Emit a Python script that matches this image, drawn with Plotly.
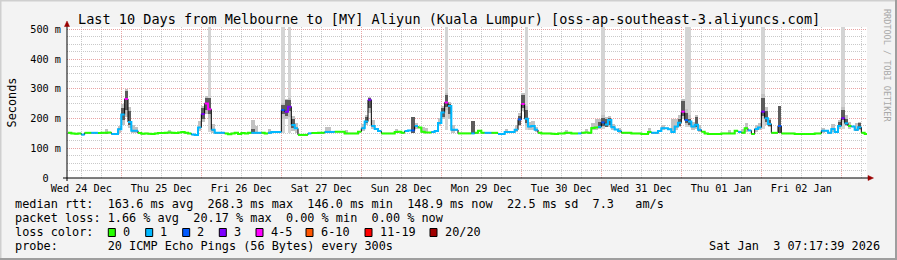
import plotly.graph_objects as go
import pandas as pd

# ---------------- data ----------------
FIRST_BIN = pd.Timestamp("2025-12-24 08:00")      # hourly bins start here
X_START = "2025-12-24 07:42:00"
X_END = "2026-01-03 07:42:00"

# median RTT (ms), one value per hour
median_rtt = [
    152, 150, 149, 150, 146, 152, 152, 152, 152, 151, 152, 152, 153, 148, 148, 164, 214, 266, 188, 159, 159, 151, 149, 150,
    149, 148, 150, 151, 151, 152, 153, 152, 151, 153, 155, 152, 150, 146, 145, 170, 215, 251, 231, 162, 152, 152, 152, 150,
    147, 150, 152, 148, 151, 150, 152, 152, 152, 152, 152, 150, 152, 155, 155, 155, 229, 223, 240, 178, 167, 145, 145, 145,
    150, 151, 151, 152, 152, 155, 155, 155, 156, 156, 156, 150, 150, 150, 150, 156, 167, 190, 263, 175, 165, 158, 150, 150,
    150, 150, 155, 156, 152, 158, 160, 160, 175, 170, 156, 153, 153, 155, 158, 185, 220, 254, 242, 162, 162, 150, 150, 150,
    150, 150, 152, 159, 152, 152, 152, 152, 152, 148, 148, 155, 155, 155, 162, 197, 249, 199, 173, 175, 162, 152, 150, 150,
    150, 149, 148, 150, 150, 152, 152, 150, 150, 150, 152, 153, 152, 168, 170, 172, 187, 180, 195, 171, 163, 158, 152, 152,
    152, 150, 150, 150, 148, 148, 155, 152, 152, 158, 167, 167, 164, 155, 173, 186, 223, 195, 190, 173, 179, 162, 156, 150,
    148, 148, 148, 148, 150, 150, 150, 150, 159, 155, 152, 167, 160, 148, 165, 170, 223, 201, 182, 152, 152, 175, 150, 150,
    150, 150, 148, 148, 148, 148, 148, 148, 150, 150, 159, 159, 152, 165, 155, 175, 201, 184, 175, 173, 162, 171, 152, 148,
]

# loss colour class per hour (index into loss_labels / loss_colors)
loss_code = [
    0, 0, 0, 0, 1, 0, 0, 1, 1, 0, 0, 0, 0, 1, 1, 1, 1, 4, 1, 1, 1, 0, 0, 0,
    0, 0, 0, 0, 0, 0, 0, 0, 0, 0, 0, 0, 0, 1, 1, 1, 3, 4, 4, 1, 1, 1, 1, 0,
    0, 0, 0, 0, 0, 0, 0, 1, 1, 1, 0, 0, 1, 1, 1, 1, 2, 3, 3, 1, 1, 0, 0, 0,
    1, 0, 0, 0, 0, 1, 1, 1, 0, 0, 0, 0, 0, 0, 0, 0, 1, 1, 3, 1, 1, 1, 0, 0,
    0, 0, 0, 0, 0, 1, 1, 2, 1, 0, 0, 0, 0, 1, 1, 1, 1, 4, 1, 1, 1, 0, 0, 0,
    0, 1, 0, 0, 0, 1, 1, 0, 0, 1, 1, 1, 1, 1, 1, 2, 4, 1, 1, 1, 1, 0, 0, 0,
    0, 0, 0, 0, 0, 0, 0, 0, 0, 1, 0, 0, 0, 0, 0, 1, 2, 1, 1, 1, 1, 1, 0, 0,
    0, 0, 0, 0, 0, 0, 0, 1, 1, 1, 1, 1, 1, 1, 1, 1, 4, 2, 1, 1, 1, 1, 0, 0,
    0, 0, 0, 0, 0, 0, 0, 0, 0, 1, 0, 0, 1, 0, 1, 1, 3, 1, 1, 0, 0, 2, 0, 0,
    0, 0, 0, 0, 0, 0, 0, 0, 0, 0, 1, 1, 1, 1, 1, 1, 3, 1, 0, 1, 1, 1, 0, 0,
]

loss_labels = ["0", "1", "2", "3", "4-5", "6-10", "11-19", "20/20"]
loss_colors = ["#26ff00", "#00b8ff", "#0059ff", "#7e00ff", "#ff00ff", "#ff5500", "#ff0000", "#a00000"]

# light smoke (hour index, low, high)
smoke_hour = [11, 15, 16, 17, 18, 19, 20, 30, 39, 40, 41, 42, 43, 55, 56, 60, 64, 65, 66, 67, 68, 77, 78, 83,
              88, 89, 90, 91, 98, 103, 104, 106, 107, 111, 112, 113, 114, 115, 131, 134, 135, 136, 137, 138,
              139, 140, 149, 155, 157, 158, 159, 160, 161, 162, 163, 165, 174, 178, 181, 182, 183, 184, 185,
              186, 187, 188, 189, 198, 202, 203, 206, 207, 208, 209, 210, 213, 226, 229, 231, 232, 233, 234,
              236, 237]
smoke_lo = [148, 150, 180, 205, 168, 150, 150, 150, 158, 190, 215, 200, 150, 150, 150, 150, 200, 200, 205, 158,
            150, 150, 150, 148, 158, 178, 218, 165, 150, 152, 165, 152, 150, 175, 200, 228, 200, 152, 150, 155,
            175, 225, 175, 160, 160, 155, 148, 150, 160, 160, 165, 170, 170, 172, 160, 150, 150, 160, 150, 160,
            172, 200, 180, 175, 160, 165, 155, 148, 150, 155, 155, 160, 200, 180, 170, 152, 150, 155, 165, 190,
            175, 165, 158, 160]
smoke_hi = [165, 176, 248, 300, 240, 178, 170, 163, 192, 242, 276, 270, 182, 195, 175, 166, 252, 266, 268, 210,
            186, 170, 172, 162, 182, 212, 272, 195, 166, 205, 185, 170, 168, 202, 242, 285, 256, 178, 165, 180,
            218, 285, 242, 188, 192, 170, 162, 165, 185, 200, 200, 212, 206, 210, 182, 168, 168, 180, 200, 200,
            212, 265, 232, 212, 190, 212, 178, 162, 165, 185, 178, 186, 282, 240, 202, 242, 168, 182, 196, 240,
            212, 190, 186, 190]

# dark smoke core (hour index, low, high)
dark_hour = [16, 17, 18, 40, 41, 42, 55, 64, 65, 66, 67, 89, 90, 103, 112, 113, 114, 121, 135, 136, 137, 159,
             160, 161, 162, 183, 184, 185, 186, 188, 208, 209, 210, 213, 231, 232, 233, 237]
dark_lo = [195, 230, 180, 200, 230, 215, 150, 215, 210, 225, 168, 186, 235, 152, 205, 240, 215, 150, 180, 235,
           185, 168, 175, 172, 180, 175, 210, 185, 180, 170, 210, 190, 175, 152, 170, 195, 178, 165]
dark_hi = [235, 293, 226, 236, 270, 268, 165, 246, 262, 262, 200, 205, 268, 205, 236, 279, 250, 192, 210, 279,
           230, 190, 201, 198, 201, 200, 259, 220, 200, 205, 268, 225, 195, 242, 190, 229, 200, 185]

# isolated outliers reaching the top of the graph
spike_hour = [42, 64, 66, 113, 137, 160, 185, 186, 208, 232]
spike_lo = [155, 150, 150, 160, 160, 165, 170, 170, 165, 165]
spike_hi = [512, 512, 512, 512, 512, 512, 512, 512, 512, 512]

y_tickvals = [0, 100, 200, 300, 400, 500]
y_ticktext = ["0\u00a0\u00a0", "100 m", "200 m", "300 m", "400 m", "500 m"]

title_text = "Last 10 Days from Melbourne to [MY] Aliyun (Kuala Lumpur) [oss-ap-southeast-3.aliyuncs.com]"
row_median = "median rtt:  163.6 ms avg  268.3 ms max  146.0 ms min  148.9 ms now  22.5 ms sd  7.3   am/s"
row_loss = "packet loss: 1.66 % avg  20.17 % max  0.00 % min  0.00 % now"
row_color = "loss color:"
row_probe = "probe:       20 ICMP Echo Pings (56 Bytes) every 300s"
stamp_text = "Sat Jan  3 07:17:39 2026"
watermark = "RRDTOOL / TOBI OETIKER"

# ---------------- geometry ----------------
W, H = 897, 260
PL, PR, PT, PB = 67, 867, 27, 178
MONO = "DejaVu Sans Mono"


def px(x):
    return (x - PL) / (PR - PL)


def py(y):
    return (PB - y) / (PB - PT)


def nb(s):
    return s.replace(" ", "\u00a0")


HOUR = pd.Timedelta(hours=1)
n = len(median_rtt)
edges = [FIRST_BIN + HOUR * j for j in range(n + 1)]


def centre(j):
    return FIRST_BIN + HOUR * j + HOUR / 2


fig = go.Figure()

# outliers
fig.add_trace(go.Bar(x=[centre(j) for j in spike_hour], base=spike_lo,
                     y=[h - l for h, l in zip(spike_hi, spike_lo)], width=3600000,
                     marker=dict(color="#d4d4d4", line=dict(width=0)), hoverinfo="skip"))
# light smoke
fig.add_trace(go.Bar(x=[centre(j) for j in smoke_hour], base=smoke_lo,
                     y=[h - l for h, l in zip(smoke_hi, smoke_lo)], width=3600000,
                     marker=dict(color="#c2c2c2", line=dict(width=0)), hoverinfo="skip"))
# dark smoke
fig.add_trace(go.Bar(x=[centre(j) for j in dark_hour], base=dark_lo,
                     y=[h - l for h, l in zip(dark_hi, dark_lo)], width=3600000,
                     marker=dict(color="#5c5c5c", line=dict(width=0)), hoverinfo="skip"))

# black step line (connectors)
fig.add_trace(go.Scatter(x=edges, y=median_rtt + [median_rtt[-1]], mode="lines",
                         line=dict(color="#000000", width=1, shape="hv"), hoverinfo="skip"))

# coloured median by loss class
for c, col in enumerate(loss_colors):
    xs, ys = [], []
    j = 0
    while j < n:
        if loss_code[j] == c:
            k = j
            while k + 1 < n and loss_code[k + 1] == c:
                k += 1
            for i in range(j, k + 1):
                xs.append(edges[i])
                ys.append(median_rtt[i])
            xs.append(edges[k + 1])
            ys.append(median_rtt[k])
            xs.append(None)
            ys.append(None)
            j = k + 1
        else:
            j += 1
    if xs:
        fig.add_trace(go.Scatter(x=xs, y=ys, mode="lines", connectgaps=False,
                                 line=dict(color=col, width=2, shape="hv"), hoverinfo="skip"))

RED_GRID = "#e9a3a3"
GRAY_GRID = "#c9c9c9"
DOTS = "1px,1px"

fig.update_layout(
    width=W, height=H, autosize=False,
    margin=dict(l=PL, r=W - PR, t=PT, b=H - PB, pad=0),
    paper_bgcolor="#f3f3f3", plot_bgcolor="#ffffff",
    showlegend=False, barmode="overlay", bargap=0,
    font=dict(family=MONO, size=10.2, color="#000000"),
    xaxis=dict(
        type="date", range=[X_START, X_END], automargin=False,
        tick0="2025-12-25 00:00", dtick=86400000, tickformat="%a %d %b",
        ticklabelmode="period", ticks="", showline=False, zeroline=False,
        showgrid=True, gridcolor=RED_GRID, griddash=DOTS, gridwidth=1,
        minor=dict(tick0="2025-12-25 00:00", dtick=21600000, showgrid=True,
                   gridcolor=GRAY_GRID, griddash=DOTS, gridwidth=1, ticks=""),
        tickfont=dict(family=MONO, size=10.2, color="#000000"),
        ticklabelstandoff=3,
        fixedrange=True,
    ),
    yaxis=dict(
        range=[0, 508], automargin=False, tickmode="array",
        tickvals=y_tickvals, ticktext=y_ticktext, ticks="",
        showline=False, zeroline=False,
        showgrid=True, gridcolor=RED_GRID, griddash=DOTS, gridwidth=1,
        minor=dict(dtick=25, tick0=0, showgrid=True, gridcolor=GRAY_GRID,
                   griddash=DOTS, gridwidth=1, ticks=""),
        tickfont=dict(family=MONO, size=10.2, color="#000000"),
        ticklabelstandoff=5,
        fixedrange=True,
    ),
)

shapes = []
# axis lines
shapes.append(dict(type="line", xref="paper", yref="paper", x0=px(63), x1=px(869), y0=py(178), y1=py(178),
                   line=dict(color="#000000", width=1)))
shapes.append(dict(type="line", xref="paper", yref="paper", x0=px(67), x1=px(67), y0=py(181), y1=py(24),
                   line=dict(color="#000000", width=1)))
# arrows


def tri(pts):
    p = "M " + " L ".join(f"{px(a):.5f},{py(b):.5f}" for a, b in pts) + " Z"
    return dict(type="path", xref="paper", yref="paper", path=p,
                fillcolor="#9a0000", line=dict(color="#9a0000", width=0.5))


shapes.append(tri([(64.5, 26.5), (69.5, 26.5), (67, 21)]))
shapes.append(tri([(868, 175.5), (868, 180.5), (873.5, 178)]))

# legend swatches
swatch_x = [108.3, 145.7, 182.7, 219.3, 256.0, 306.0, 365.0, 430.0]
for sx, col in zip(swatch_x, loss_colors):
    shapes.append(dict(type="rect", xref="paper", yref="paper",
                       x0=px(sx), x1=px(sx + 7), y0=py(236.5), y1=py(228.5),
                       fillcolor=col, line=dict(color="#000000", width=1)))

# frame
shapes.append(dict(type="line", xref="paper", yref="paper", x0=px(0), x1=px(W), y0=py(0.5), y1=py(0.5),
                   line=dict(color="#cfcfcf", width=2)))
shapes.append(dict(type="line", xref="paper", yref="paper", x0=px(0.5), x1=px(0.5), y0=py(0), y1=py(H),
                   line=dict(color="#cfcfcf", width=2)))
shapes.append(dict(type="line", xref="paper", yref="paper", x0=px(0), x1=px(W), y0=py(H - 1), y1=py(H - 1),
                   line=dict(color="#9e9e9e", width=2)))
shapes.append(dict(type="line", xref="paper", yref="paper", x0=px(W - 1), x1=px(W - 1), y0=py(0), y1=py(H),
                   line=dict(color="#9e9e9e", width=2)))
fig.update_layout(shapes=shapes)

ann = []


def text(s, x, y, size=11.85, xanchor="left", color="#000000", angle=0):
    ann.append(dict(text=nb(s), x=px(x), y=py(y), xref="paper", yref="paper",
                    xanchor=xanchor, yanchor="middle", showarrow=False, borderpad=0,
                    textangle=angle, font=dict(family=MONO, size=size, color=color)))


text(title_text, 448.5, 19, size=13.55, xanchor="center")
text("Seconds", 11, 102.5, size=11.85, xanchor="center", angle=-90)
text(row_median, 14.2, 204.3)
text(row_loss, 14.2, 218.3)
text(row_color, 14.2, 232.3)
for sx, lab in zip(swatch_x, loss_labels):
    text(lab, sx + 13.5, 232.3)
text(row_probe, 14.2, 246)
text(stamp_text, 880.5, 246, xanchor="right")
text(watermark, 887, 66, size=8.5, xanchor="center", color="#a8a8a8", angle=90)
fig.update_layout(annotations=ann)

fig.write_html("out.html")
